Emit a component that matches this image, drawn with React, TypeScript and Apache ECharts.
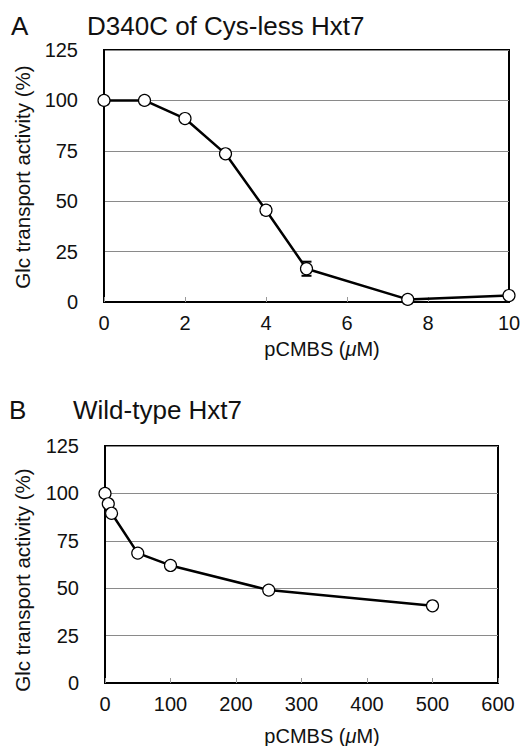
import React, { useEffect, useRef } from "react";
import * as echarts from "echarts";

const concA = [0, 1, 2, 3, 4, 5, 7.5, 10];
const actA = [100, 100, 91, 73.5, 45.5, 16.5, 1.3, 3.2];
const errA = [0, 0, 0, 1.5, 2, 3.5, 0, 0];

const concB = [0, 5, 10, 50, 100, 250, 500];
const actB = [100, 94.5, 89.5, 68.5, 62, 49, 40.7];

const yTicks = [0, 25, 50, 75, 100, 125];
const xTicksA = [0, 2, 4, 6, 8, 10];
const xTicksB = [0, 100, 200, 300, 400, 500, 600];

const titleA = ["A", "D340C of Cys-less Hxt7"];
const titleB = ["B", "Wild-type Hxt7"];
const yName = "Glc transport activity (%)";

const FONT = "'Liberation Sans', Arial, sans-serif";

export default function App() {
  const ref = useRef<HTMLDivElement>(null);
  useEffect(() => {
    if (!ref.current) return;
    const chart = echarts.init(ref.current, null, { renderer: "svg" });

    const xAxisCommon = (i: number, max: number, interval: number) => ({
      type: "value",
      gridIndex: i,
      min: 0,
      max,
      interval,
      axisLine: { show: true, lineStyle: { color: "#000", width: 2 } },
      axisTick: { show: true, inside: true, length: 5, lineStyle: { color: "#999", width: 1 } },
      axisLabel: { color: "#111", fontSize: 20, fontFamily: FONT, margin: 11 },
      splitLine: { show: false },
    });
    const yAxisCommon = (i: number) => ({
      type: "value",
      gridIndex: i,
      min: yTicks[0],
      max: yTicks[yTicks.length - 1],
      interval: 25,
      axisLine: { show: true, lineStyle: { color: "#000", width: 2 } },
      axisTick: { show: false },
      axisLabel: { color: "#111", fontSize: 20, fontFamily: FONT, margin: 26 },
      splitLine: { show: true, lineStyle: { color: "#8a8a8a", width: 1 } },
    });

    const lineSeries = (i: number, xs: number[], ys: number[]) => ({
      type: "line",
      xAxisIndex: i,
      yAxisIndex: i,
      data: xs.map((x, k) => [x, ys[k]]),
      symbol: "circle",
      symbolSize: 12,
      showSymbol: true,
      lineStyle: { color: "#000", width: 2.5 },
      itemStyle: { color: "#fff", borderColor: "#000", borderWidth: 1.2 },
      z: 5,
    });

    const errSeries = {
      type: "custom",
      xAxisIndex: 0,
      yAxisIndex: 0,
      data: concA.map((x, k) => [x, actA[k], errA[k]]),
      z: 4,
      renderItem: (params: any, api: any) => {
        const x = api.value(0);
        const y = api.value(1);
        const e = api.value(2);
        if (!e) return null;
        const lo = api.coord([x, y - e]);
        const hi = api.coord([x, y + e]);
        const w = 5;
        const style = { stroke: "#000", lineWidth: 2 };
        return {
          type: "group",
          children: [
            { type: "line", shape: { x1: lo[0], y1: lo[1], x2: hi[0], y2: hi[1] }, style },
            { type: "line", shape: { x1: lo[0] - w, y1: lo[1], x2: lo[0] + w, y2: lo[1] }, style },
            { type: "line", shape: { x1: hi[0] - w, y1: hi[1], x2: hi[0] + w, y2: hi[1] }, style },
          ],
        };
      },
    };

    const xName = (cx: number, cy: number) => ({
      type: "text",
      x: cx,
      y: cy,
      style: {
        text: "pCMBS ({mu|μ}M)",
        rich: { mu: { fontStyle: "italic", fontSize: 20, fontFamily: FONT, fill: "#111" } },
        fontSize: 20,
        fontFamily: FONT,
        fill: "#111",
        align: "center",
        verticalAlign: "middle",
      },
    });
    const yNameG = (cx: number, cy: number) => ({
      type: "text",
      x: cx,
      y: cy,
      rotation: Math.PI / 2,
      style: {
        text: yName,
        fontSize: 20.5,
        fontFamily: FONT,
        fill: "#111",
        align: "center",
        verticalAlign: "middle",
      },
    });
    const title = (t: string[], x1: number, x2: number, cy: number) => [
      {
        type: "text",
        x: x1,
        y: cy,
        style: { text: t[0], fontSize: 26, fontFamily: FONT, fill: "#111", verticalAlign: "middle" },
      },
      {
        type: "text",
        x: x2,
        y: cy,
        style: { text: t[1], fontSize: 26, fontFamily: FONT, fill: "#111", verticalAlign: "middle" },
      },
    ];

    chart.setOption({
      animation: false,
      backgroundColor: "#fff",
      grid: [
        { left: 104, top: 50, width: 405, height: 252, show: true, borderColor: "#000", borderWidth: 2, backgroundColor: "transparent" },
        { left: 105, top: 446, width: 393, height: 237, show: true, borderColor: "#000", borderWidth: 2, backgroundColor: "transparent" },
      ],
      xAxis: [xAxisCommon(0, xTicksA[xTicksA.length - 1], 2), xAxisCommon(1, xTicksB[xTicksB.length - 1], 100)],
      yAxis: [yAxisCommon(0), yAxisCommon(1)],
      series: [lineSeries(0, concA, actA), errSeries, lineSeries(1, concB, actB)],
      graphic: [
        ...title(titleA, 11, 87, 26),
        ...title(titleB, 9, 73, 410),
        xName(322, 349),
        xName(322, 736),
        yNameG(22, 177),
        yNameG(22, 580),
      ],
    });
    return () => chart.dispose();
  }, []);
  return <div ref={ref} style={{ position: "fixed", left: 0, top: 0, width: 526, height: 746 }} />;
}
